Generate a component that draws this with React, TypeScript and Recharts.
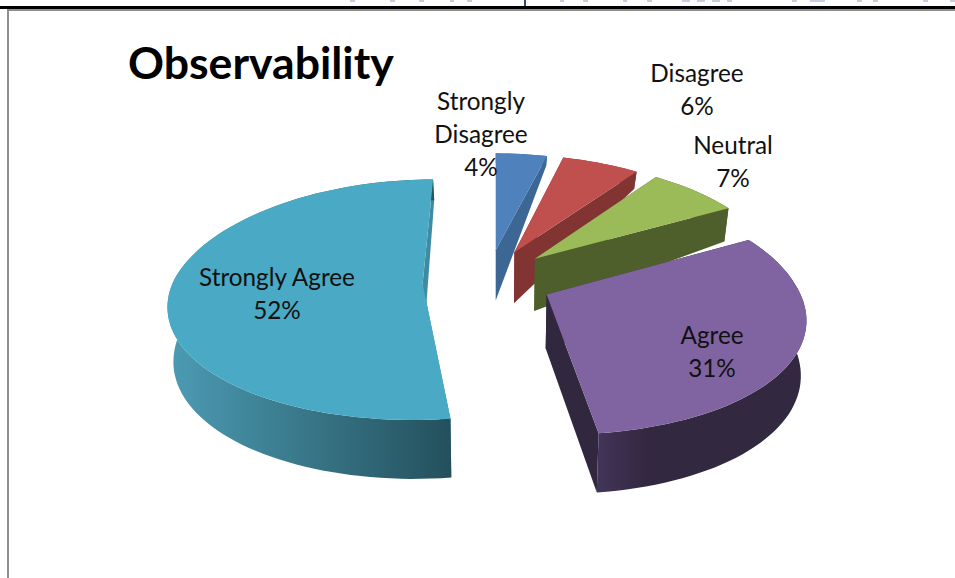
import React from 'react';
import { PieChart, Pie } from 'recharts';

const categories = ['Strongly Disagree', 'Disagree', 'Neutral', 'Agree', 'Strongly Agree'];
const shares = [4, 6, 7, 31, 52];
const faceColors = ['#4f81bd', '#c0504d', '#9bbb59', '#8064a2', '#4aa9c4'];
// side wall colours: edge wall, then left and right ends of the rim gradient
const wallColors = [
  ['#3c6795', '#3c6795', '#3c6795'],
  ['#823433', '#823433', '#823433'],
  ['#4f5f2b', '#4f5f2b', '#4f5f2b'],
  ['#31283f', '#42355a', '#32283f'],
  ['#3f8ba3', '#4b9ab2', '#24505c'],
];
const labelLines = [['Strongly', 'Disagree', '4%'], ['Disagree', '6%'], ['Neutral', '7%'], ['Agree', '31%'], ['Strongly Agree', '52%']];
const labelSpots = [[481, 102], [697, 74], [733, 146], [712, 336], [277, 278]];

// cut-off descenders of the running header above the rule
const headerBits = [
  [350, 5], [390, 5], [419, 5], [450, 4], [467, 5], [560, 4], [583, 5], [623, 4], [647, 5], [682, 8],
  [697, 8], [712, 8], [727, 5], [792, 5], [810, 15], [857, 5], [873, 5], [923, 5], [950, 5],
];

const pieData = categories.map((name, i) => ({ name, value: shares[i] }));

// camera for the tilted pie, radius-relative plane units
const PIE_X = 496;
const PIE_Y = 283;
const RADIUS = 250;
const HORIZON = 883;
const TILT = 0.1335;
const NARROW = 0.03;
const FRONT_SKEW = 0.015;
const FLOOR_PINCH = 0.018;
const EXPLODE = 0.26;
const EXPLODE_TURN = 3;
const FRONT_PUSH = 1.2;
const HUB_X = -0.034;
const HUB_Y = 0.03;

const rad = (deg: number) => (deg * Math.PI) / 180;

// plane point to screen; the floor of the pie sits lower and slightly pinched
const project = (cx: number, cy: number, r: number, px: number, py: number, depth = 0) => {
  const w = 1 + TILT * py;
  const skewed = px + FRONT_SKEW * Math.max(0, -py);
  const pinch = depth > 0 ? 1 - FLOOR_PINCH : 1;
  return [cx + (pinch * r * skewed) / (w * (1 + NARROW * py)), cy + HORIZON * (1 / w - 1) + depth];
};

// walls shrink sharply towards the back of the pie
const wallDepth = (py: number) => (py > 0.25 ? Math.max(52 - 42 * (py - 0.25), 10) : 52 + 5.5 * (0.25 - py));

const toPath = (pts: number[][]) => 'M' + pts.map((p) => `${p[0].toFixed(1)},${p[1].toFixed(1)}`).join('L') + 'Z';

const Slice3D = (props: any) => {
  const { cx, cy, outerRadius, startAngle, endAngle, index } = props;
  const mid = (startAngle + endAngle) / 2;
  const lift = Math.sin(rad(mid + EXPLODE_TURN));
  const hubX = HUB_X + EXPLODE * Math.cos(rad(mid));
  const hubY = HUB_Y + EXPLODE * (lift < 0 ? lift * FRONT_PUSH : lift);
  const top = (px: number, py: number) => project(cx, cy, outerRadius, px, py);
  const low = (px: number, py: number) => project(cx, cy, outerRadius, px, py, wallDepth(py));

  const rimTop: number[][] = [];
  const rimLow: number[][] = [];
  const steps = Math.max(4, Math.ceil(Math.abs(endAngle - startAngle) / 2));
  for (let i = 0; i <= steps; i += 1) {
    const a = rad(startAngle + ((endAngle - startAngle) * i) / steps);
    const px = hubX + Math.cos(a);
    const py = hubY + Math.sin(a);
    rimTop.push(top(px, py));
    rimLow.push(low(px, py));
  }
  const apexTop = top(hubX, hubY);
  const apexLow = low(hubX, hubY);
  const last = rimTop.length - 1;
  const xs = rimLow.map((p) => p[0]);
  const gradId = `rim-${index}`;
  const walls = wallColors[index];

  return (
    <g>
      <defs>
        <linearGradient id={gradId} gradientUnits="userSpaceOnUse" x1={Math.min(...xs)} x2={Math.max(...xs)} y1={0} y2={0}>
          <stop offset={0} stopColor={walls[1]} />
          <stop offset={index === 3 ? 0.25 : 1} stopColor={walls[2]} />
        </linearGradient>
      </defs>
      <path d={toPath([apexTop, rimTop[0], rimLow[0], apexLow])} fill={walls[0]} />
      <path d={toPath([apexTop, rimTop[last], rimLow[last], apexLow])} fill={walls[0]} />
      <path d={toPath([...rimTop, ...[...rimLow].reverse()])} fill={`url(#${gradId})`} />
      <path d={toPath([apexTop, ...rimTop])} fill={faceColors[index]} />
    </g>
  );
};

const SliceLabel = (props: any) => {
  const lines = labelLines[props.index];
  const spot = labelSpots[props.index];
  return (
    <text x={spot[0]} y={spot[1] + 8} textAnchor="middle" fontFamily="Lato" fontSize={24.3} fill="#111">
      {lines.map((line, i) => (
        <tspan key={line} x={spot[0]} y={spot[1] + 8 + i * 33}>
          {line}
        </tspan>
      ))}
    </text>
  );
};

export default function App() {
  return (
    <div style={{ position: 'absolute', left: 0, top: 0, width: 955, height: 578, background: '#fff', overflow: 'hidden' }}>
      {/* page rules around the figure */}
      <div style={{ position: 'absolute', left: 0, top: 6, width: 955, height: 3, background: '#000' }} />
      <div style={{ position: 'absolute', left: 7, top: 9, width: 948, height: 2, background: '#8f8f8f' }} />
      <div style={{ position: 'absolute', left: 7, top: 9, width: 2, height: 569, background: '#8f8f8f' }} />
      <div style={{ position: 'absolute', left: 524, top: 0, width: 2, height: 6, background: '#2f4a7c' }} />
      {headerBits.map(([x, w]) => (
        <div key={x} style={{ position: 'absolute', left: x, top: 0, width: w, height: 2, background: '#c5cfe0' }} />
      ))}
      <PieChart width={955} height={578} margin={{ top: 0, right: 0, bottom: 0, left: 0 }} style={{ position: 'absolute', left: 0, top: 0 }}>
        <text x={128} y={79} fontFamily="Lato" fontWeight={700} fontSize={44.6} fill="#000">
          Observability
        </text>
        <Pie
          data={pieData}
          dataKey="value"
          nameKey="name"
          cx={PIE_X}
          cy={PIE_Y}
          innerRadius={0}
          outerRadius={RADIUS}
          startAngle={90}
          endAngle={-270}
          stroke="none"
          shape={Slice3D}
          label={SliceLabel}
          labelLine={false}
          isAnimationActive={false}
        />
      </PieChart>
    </div>
  );
}
